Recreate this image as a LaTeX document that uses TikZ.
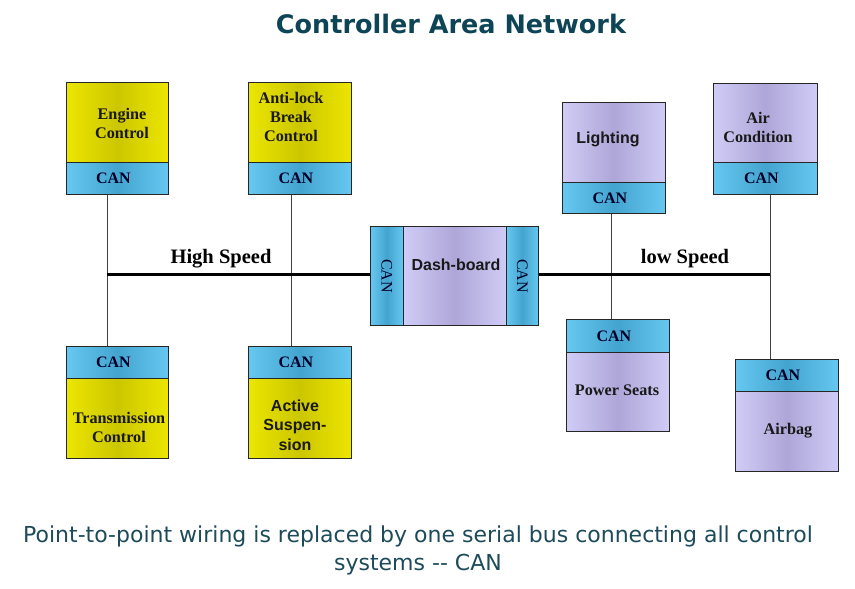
\documentclass[tikz,border=0pt]{standalone}
\usepackage{fontspec}
\setmainfont{Liberation Serif}
\newfontfamily\arialf{Liberation Sans}
\newfontfamily\verdf{DejaVu Sans}
\definecolor{yel}{HTML}{ECE600}
\definecolor{yeld}{HTML}{CCC600}
\definecolor{canl}{HTML}{66C8F0}
\definecolor{cand}{HTML}{44A4D0}
\definecolor{purl}{HTML}{D0CCF6}
\definecolor{purd}{HTML}{AEA6D8}
\definecolor{teal}{HTML}{0E4556}
\definecolor{capt}{HTML}{1E4B5A}
\tikzset{
  boxbase/.style={draw=black!85, line width=0.8pt, inner sep=0pt, anchor=north west},
  yunit/.style={boxbase, left color=yel, right color=yel, middle color=yeld},
  punit/.style={boxbase, left color=purl, right color=purl, middle color=purd},
  canbox/.style={boxbase, left color=canl, right color=canl, middle color=cand},
  sertxt/.style={font=\fontsize{16.2}{19}\selectfont\bfseries, align=center, text=black!90},
  santxt/.style={font=\arialf\fontsize{16}{19.5}\selectfont\bfseries, align=center, text=black!90},
  cantxt/.style={font=\fontsize{16}{18}\selectfont\bfseries, text=black!85!blue},
  wire/.style={line width=0.8pt, draw=black!75},
  bus/.style={line width=3pt, draw=black},
  buslabel/.style={font=\fontsize{20.5}{22}\selectfont\bfseries}
}
\begin{document}
\begin{tikzpicture}[x=1pt,y=-1pt]
\fill[white] (0,0) rectangle (855,589);
\useasboundingbox (0,0) rectangle (855,589);
% title
\node[font=\verdf\fontsize{25.5}{28}\selectfont\bfseries, text=teal] (title) at (451,24) {Controller Area Network};
% high speed side units
\node[yunit, minimum width=102pt, minimum height=80pt] (eng) at (66,82) {};
\node[canbox, minimum width=102pt, minimum height=32pt] (engcan) at (66,162) {};
\node[yunit, minimum width=103pt, minimum height=80pt] (abs) at (248,82) {};
\node[canbox, minimum width=103pt, minimum height=32pt] (abscan) at (248,162) {};
\node[canbox, minimum width=102pt, minimum height=32pt] (trcan) at (66,346) {};
\node[yunit, minimum width=102pt, minimum height=80pt] (tr) at (66,378) {};
\node[canbox, minimum width=103pt, minimum height=32pt] (sucan) at (248,346) {};
\node[yunit, minimum width=103pt, minimum height=80pt] (su) at (248,378) {};
% dashboard
\node[canbox, minimum width=33pt, minimum height=99pt] (dbl) at (370,226) {};
\node[punit, minimum width=103pt, minimum height=99pt] (db) at (403,226) {};
\node[canbox, minimum width=32pt, minimum height=99pt] (dbr) at (506,226) {};
% low speed units
\node[punit, minimum width=103pt, minimum height=80pt] (li) at (562,102) {};
\node[canbox, minimum width=103pt, minimum height=31pt] (lican) at (562,182) {};
\node[punit, minimum width=104pt, minimum height=79pt] (ac) at (713,83) {};
\node[canbox, minimum width=104pt, minimum height=32pt] (accan) at (713,162) {};
\node[canbox, minimum width=103pt, minimum height=33pt] (pscan) at (566,319) {};
\node[punit, minimum width=103pt, minimum height=79pt] (ps) at (566,352) {};
\node[canbox, minimum width=103pt, minimum height=32pt] (abgcan) at (735,359) {};
\node[punit, minimum width=103pt, minimum height=80pt] (abg) at (735,391) {};
% texts
\node[sertxt] (engt) at (122,123) {Engine\\Control};
\node[sertxt] (abst) at (291,117) {Anti-lock\\Break\\Control};
\node[sertxt] (trt) at (119,427) {Transmission\\Control};
\node[santxt] (sut) at (295,425) {Active\\Suspen-\\sion};
\node[santxt] (dbt) at (456,265) {Dash-board};
\node[santxt] (lit) at (608,139) {Lighting};
\node[sertxt] (act) at (758,127) {Air\\Condition};
\node[sertxt] (pst) at (617,390) {Power Seats};
\node[sertxt] (abgt) at (788,431) {Airbag};
\node[cantxt] at ([xshift=-4pt]engcan.center) {CAN};
\node[cantxt] at ([xshift=-4pt]abscan.center) {CAN};
\node[cantxt] at ([xshift=-4pt]trcan.center) {CAN};
\node[cantxt] at ([xshift=-4pt]sucan.center) {CAN};
\node[cantxt] at ([xshift=-4pt]lican.center) {CAN};
\node[cantxt] at ([xshift=-4pt]accan.center) {CAN};
\node[cantxt] at ([xshift=-4pt]pscan.center) {CAN};
\node[cantxt] at ([xshift=-4pt]abgcan.center) {CAN};
\node[cantxt, font=\fontsize{16}{18}\selectfont, rotate=-90] at (dbl.center) {CAN};
\node[cantxt, font=\fontsize{16}{18}\selectfont, rotate=-90] at (dbr.center) {CAN};
% wires
\draw[wire] ([xshift=-10pt]engcan.south) -- ([xshift=-10pt]trcan.north);
\draw[wire] ([xshift=-8.5pt]abscan.south) -- ([xshift=-8.5pt]sucan.north);
\draw[wire] ([xshift=-2.5pt]lican.south) -- ([xshift=-6.5pt]pscan.north);
\draw[wire] ([xshift=5pt]accan.south) -- ([xshift=-16.5pt]abgcan.north);
% buses
\coordinate (busL) at (107,274.5);
\coordinate (busR) at (770,274.5);
\draw[bus] (busL) -- (busL -| dbl.west);
\draw[bus] (busR -| dbr.east) -- (busR);
\node[buslabel] (hs) at (221,259) {High Speed};
\node[buslabel] (ls) at (685,259) {low Speed};
% caption
\node[font=\verdf\fontsize{22}{28}\selectfont, text=capt, align=center] (cap) at (418,550) {Point-to-point wiring is replaced by one serial bus connecting all control\\systems -- CAN};
\end{tikzpicture}
\end{document}
